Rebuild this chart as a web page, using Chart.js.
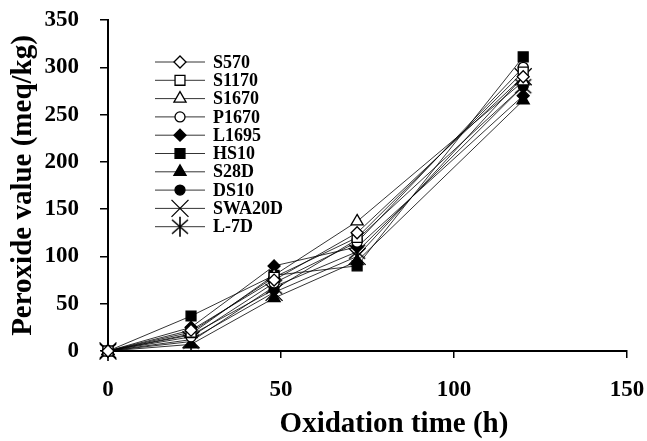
<!DOCTYPE html>
<html>
<head>
<meta charset="utf-8">
<script src="https://cdn.jsdelivr.net/npm/chart.js@4/dist/chart.umd.min.js"></script>
<style>
  html, body { margin: 0; padding: 0; background: #fff; }
  #wrap { width: 647px; height: 441px; }
</style>
</head>
<body>
<div id="wrap"><canvas id="pv"></canvas></div>
<script>
// oxidation time (h)
const times = [0, 24, 48, 72, 120];
const xTicks = [0, 50, 100, 150];
const yTicks = [0, 50, 100, 150, 200, 250, 300, 350];

const names = ['S570', 'S1170', 'S1670', 'P1670', 'L1695', 'HS10', 'S28D', 'DS10', 'SWA20D', 'L-7D'];

// peroxide value (meq/kg)
const s570   = [0, 22, 75, 125, 290];
const s1170  = [0, 20, 78, 120, 295];
const s1670  = [0, 18, 80, 137, 285];
const p1670  = [0, 15, 72, 115, 300];
const l1695  = [0, 25, 90, 110, 270];
const hs10   = [0, 37, 80, 90, 311];
const s28d   = [0, 7, 56, 95, 265];
const ds10   = [0, 17, 65, 118, 280];
const swa20d = [0, 12, 62, 100, 290];
const l7d    = [0, 10, 68, 105, 280];

const series = [s570, s1170, s1670, p1670, l1695, hs10, s28d, ds10, swa20d, l7d];

// asterisk marker: an X with a vertical stroke
function asterisk() {
    const c = document.createElement('canvas');
    c.width = 22;
    c.height = 22;
    const g = c.getContext('2d');
    g.strokeStyle = '#000';
    g.lineWidth = 1.6;
    g.beginPath();
    g.moveTo(11, 1); g.lineTo(11, 21);
    g.moveTo(3, 4); g.lineTo(19, 18);
    g.moveTo(19, 4); g.lineTo(3, 18);
    g.stroke();
    return c;
}

const markers = [
    {style: 'rectRot', fill: '#fff', r: 6},
    {style: 'rect', fill: '#fff', r: 7},
    {style: 'triangle', fill: '#fff', r: 7},
    {style: 'circle', fill: '#fff', r: 5},
    {style: 'rectRot', fill: '#000', r: 6},
    {style: 'rect', fill: '#000', r: 7},
    {style: 'triangle', fill: '#000', r: 7},
    {style: 'circle', fill: '#000', r: 5},
    {style: 'crossRot', fill: '#000', r: 12},
    {style: asterisk(), fill: '#000', r: 11}
];

const serif = "'Liberation Serif', 'Times New Roman', serif";

const datasets = series.map(function (vals, i) {
    return {
        label: names[i],
        data: times.map(function (t, j) { return {x: t, y: vals[j]}; }),
        borderColor: '#000',
        borderWidth: 0.8,
        pointStyle: markers[i].style,
        pointRadius: markers[i].r,
        pointBackgroundColor: markers[i].fill,
        pointBorderColor: '#000',
        pointBorderWidth: 1.3,
        tension: 0,
        clip: false
    };
});

// legend drawn inside the plot: short line with the marker in the middle
const lineLegend = {
    id: 'lineLegend',
    afterDatasetsDraw: function (chart) {
        const ctx = chart.ctx;
        const x0 = 155, x1 = 205, y0 = 62, dy = 18.3;
        ctx.save();
        chart.data.datasets.forEach(function (ds, i) {
            const y = y0 + i * dy;
            ctx.strokeStyle = '#000';
            ctx.lineWidth = 0.8;
            ctx.beginPath();
            ctx.moveTo(x0, y);
            ctx.lineTo(x1, y);
            ctx.stroke();
            ctx.fillStyle = ds.pointBackgroundColor;
            ctx.lineWidth = 1.3;
            Chart.helpers.drawPoint(ctx, {pointStyle: ds.pointStyle, radius: ds.pointRadius, borderWidth: 1.3}, (x0 + x1) / 2, y);
            ctx.fillStyle = '#000';
            ctx.font = 'bold 18px ' + serif;
            ctx.textBaseline = 'middle';
            ctx.textAlign = 'left';
            ctx.fillText(ds.label, x1 + 8, y + 1);
        });
        ctx.restore();
    }
};

// x title sits right of the axis centre in the original
const xTitle = {
    id: 'xTitle',
    afterDraw: function (chart) {
        const ctx = chart.ctx;
        ctx.save();
        ctx.fillStyle = '#000';
        ctx.font = 'bold 29px ' + serif;
        ctx.textAlign = 'center';
        ctx.textBaseline = 'middle';
        ctx.fillText('Oxidation time (h)', 394, 425);
        ctx.restore();
    }
};

new Chart(document.getElementById('pv'), {
    type: 'line',
    data: {datasets: datasets},
    plugins: [lineLegend, xTitle],
    options: {
        responsive: true,
        maintainAspectRatio: false,
        animation: false,
        layout: {padding: {top: 20, right: 20, bottom: 0, left: 0}},
        plugins: {
            legend: {display: false},
            tooltip: {enabled: false}
        },
        scales: {
            x: {
                type: 'linear',
                min: 0,
                max: 150,
                afterBuildTicks: function (axis) {
                    axis.ticks = xTicks.map(function (v) { return {value: v}; });
                },
                afterFit: function (axis) {
                    axis.height = 90;
                    axis.paddingLeft = 0;
                    axis.paddingRight = 0;
                },
                grid: {drawOnChartArea: false, drawTicks: true, tickLength: 7, color: '#000', lineWidth: 1.5},
                border: {color: '#000', width: 2},
                ticks: {color: '#000', padding: 18, font: {family: serif, size: 23, weight: 'bold'}, maxRotation: 0},
                title: {display: false}
            },
            y: {
                type: 'linear',
                min: 0,
                max: 350,
                afterBuildTicks: function (axis) {
                    axis.ticks = yTicks.map(function (v) { return {value: v}; });
                },
                afterFit: function (axis) {
                    axis.width = 108;
                    axis.paddingTop = 0;
                    axis.paddingBottom = 0;
                },
                grid: {drawOnChartArea: false, drawTicks: true, tickLength: 8, color: '#000', lineWidth: 1.5},
                border: {color: '#000', width: 2},
                ticks: {color: '#000', padding: 21, font: {family: serif, size: 23, weight: 'bold'}},
                title: {display: true, text: 'Peroxide value (meq/kg)', color: '#000', padding: {top: 6}, font: {family: serif, size: 29, weight: 'bold'}}
            }
        }
    }
});
</script>
</body>
</html>
